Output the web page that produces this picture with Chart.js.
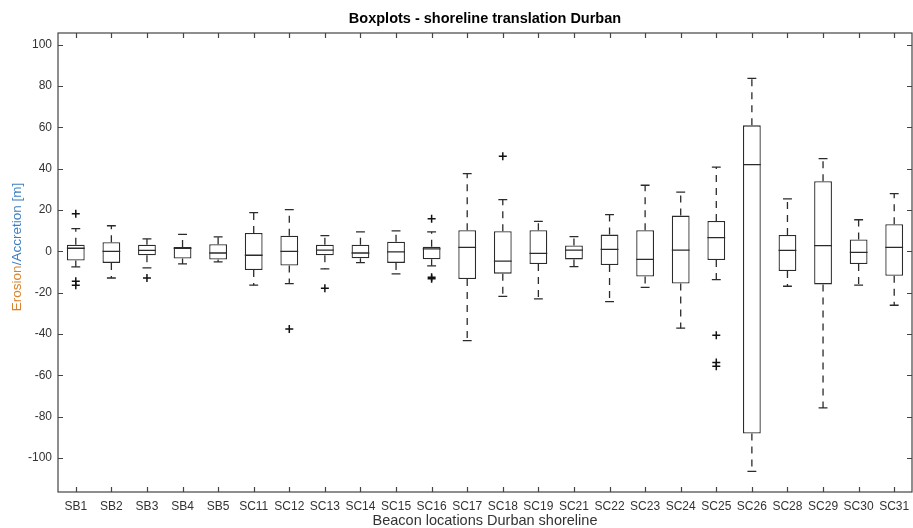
<!DOCTYPE html>
<html>
<head>
<meta charset="utf-8">
<title>Boxplots - shoreline translation Durban</title>
<script src="https://cdn.jsdelivr.net/npm/chart.js@4.4.1/dist/chart.umd.min.js"></script>
<style>
  html, body { margin: 0; padding: 0; background: #fff; }
  #wrap { width: 913px; height: 528px; }
</style>
</head>
<body>
<div id="wrap"><canvas id="boxChart"></canvas></div>
<script>
// Beacon locations along the Durban shoreline
const beacons = ['SB1', 'SB2', 'SB3', 'SB4', 'SB5', 'SC11', 'SC12', 'SC13', 'SC14', 'SC15', 'SC16', 'SC17',
                 'SC18', 'SC19', 'SC21', 'SC22', 'SC23', 'SC24', 'SC25', 'SC26', 'SC28', 'SC29', 'SC30', 'SC31'];

// Box statistics per beacon, shoreline translation in metres
const lowerWhisker = [-7.5, -12.9, -8.0, -6.1, -5.1, -16.4, -15.6, -8.5, -5.5, -10.9, -7.0, -43.2,
                      -21.8, -23.0, -7.4, -24.3, -17.4, -37.2, -13.7, -106.5, -16.9, -75.8, -16.4, -26.1];
const q1 = [-4.4, -5.6, -1.9, -3.5, -4.0, -9.0, -6.9, -1.9, -3.4, -5.6, -3.8, -13.4,
            -10.8, -6.1, -3.9, -6.6, -12.2, -15.6, -4.2, -88.2, -9.5, -16.0, -6.1, -11.8];
const medians = [1.5, 0.0, 0.5, 1.5, -0.8, -1.9, 0.0, 0.6, -0.8, -0.3, 1.2, 1.9,
                 -4.7, -1.0, 0.6, 1.0, -3.9, 0.6, 6.6, 42.0, 0.5, 2.8, -0.5, 1.9];
const q3 = [3.2, 4.4, 3.2, 2.1, 3.4, 8.9, 7.6, 3.2, 3.2, 4.7, 2.2, 10.2,
            9.7, 10.2, 2.8, 8.1, 10.2, 17.3, 14.7, 61.0, 7.9, 33.9, 5.7, 13.1];
const upperWhisker = [11.0, 12.4, 6.0, 8.2, 7.0, 18.7, 20.2, 7.6, 9.4, 9.9, 9.4, 37.6,
                      25.0, 14.5, 7.1, 17.8, 32.0, 28.7, 40.8, 83.7, 25.4, 44.9, 15.3, 27.9];

// Outliers (beacon, value)
const outlierBeacon = ['SB1', 'SB1', 'SB1', 'SB3', 'SC12', 'SC13', 'SC16', 'SC16', 'SC16', 'SC18', 'SC25', 'SC25', 'SC25'];
const outlierValue = [18.2, -14.5, -16.4, -12.9, -37.6, -17.9, 15.8, -12.6, -13.3, 46.0, -40.6, -53.8, -55.6];

const chartTitle = 'Boxplots - shoreline translation Durban';
const lineColor = '#2b2b2b';
const frameColor = '#444444';
const fontFamily = '"Liberation Sans", Arial, Helvetica, sans-serif';

Chart.defaults.font.family = fontFamily;

// Whiskers, caps and medians drawn over the floating bars
const boxParts = {
    id: 'boxParts',
    afterDatasetsDraw(chart) {
        const ctx = chart.ctx;
        const y = chart.scales.y;
        const meta = chart.getDatasetMeta(0);
        ctx.save();
        ctx.strokeStyle = lineColor;
        ctx.lineWidth = 1.3;
        meta.data.forEach((bar, i) => {
            const x = bar.x;
            const half = bar.width / 2;
            const cap = bar.width / 4;
            // dashed whiskers
            ctx.setLineDash([7, 6]);
            ctx.beginPath();
            ctx.moveTo(x, y.getPixelForValue(q3[i]));
            ctx.lineTo(x, y.getPixelForValue(upperWhisker[i]));
            ctx.moveTo(x, y.getPixelForValue(q1[i]));
            ctx.lineTo(x, y.getPixelForValue(lowerWhisker[i]));
            ctx.stroke();
            // caps and median
            ctx.setLineDash([]);
            ctx.beginPath();
            const yu = y.getPixelForValue(upperWhisker[i]);
            const yl = y.getPixelForValue(lowerWhisker[i]);
            const ym = y.getPixelForValue(medians[i]);
            ctx.moveTo(x - cap, yu); ctx.lineTo(x + cap, yu);
            ctx.moveTo(x - cap, yl); ctx.lineTo(x + cap, yl);
            ctx.moveTo(x - half, ym); ctx.lineTo(x + half, ym);
            ctx.stroke();
        });
        ctx.restore();
    }
};

// Axes box with inward ticks on all four sides, the title and the two-colour y label
const axesFrame = {
    id: 'axesFrame',
    afterDraw(chart) {
        const ctx = chart.ctx;
        const a = chart.chartArea;
        const xs = chart.scales.x;
        const ys = chart.scales.y;
        const tl = 5;
        ctx.save();
        ctx.strokeStyle = frameColor;
        ctx.lineWidth = 1.2;
        ctx.strokeRect(a.left, a.top, a.right - a.left, a.bottom - a.top);
        ctx.beginPath();
        xs.ticks.forEach((t, i) => {
            const px = Math.round(xs.getPixelForTick(i)) + 0.5;
            ctx.moveTo(px, a.bottom); ctx.lineTo(px, a.bottom - tl);
            ctx.moveTo(px, a.top); ctx.lineTo(px, a.top + tl);
        });
        ys.ticks.forEach((t, i) => {
            const py = Math.round(ys.getPixelForTick(i)) + 0.5;
            ctx.moveTo(a.left, py); ctx.lineTo(a.left + tl, py);
            ctx.moveTo(a.right, py); ctx.lineTo(a.right - tl, py);
        });
        ctx.stroke();

        // title centred over the plot area
        ctx.font = 'bold 14.5px ' + fontFamily;
        ctx.fillStyle = '#000';
        ctx.textAlign = 'center';
        ctx.textBaseline = 'middle';
        ctx.fillText(chartTitle, (a.left + a.right) / 2, 19);

        // y axis title: "Erosion" and "/Accretion [m]" in separate colours
        const partA = 'Erosion';
        const partB = '/Accretion [m]';
        ctx.font = '13.5px ' + fontFamily;
        const wA = ctx.measureText(partA).width;
        const wB = ctx.measureText(partB).width;
        const cy = 247;
        ctx.translate(17, cy + (wA + wB) / 2);
        ctx.rotate(-Math.PI / 2);
        ctx.textAlign = 'left';
        ctx.fillStyle = '#d9822b';
        ctx.fillText(partA, 0, 0);
        ctx.fillStyle = '#3b7dc4';
        ctx.fillText(partB, wA, 0);
        ctx.restore();
    }
};

const ctxBox = document.getElementById('boxChart').getContext('2d');
const boxChart = new Chart(ctxBox, {
    type: 'bar',
    data: {
        labels: beacons,
        datasets: [{
            type: 'bar',
            label: 'Box',
            data: beacons.map((b, i) => [q1[i], q3[i]]),
            backgroundColor: '#ffffff',
            borderColor: lineColor,
            borderWidth: 1.3,
            borderSkipped: false,
            barPercentage: 0.5,
            categoryPercentage: 1.0
        }, {
            type: 'scatter',
            label: 'Outliers',
            data: outlierBeacon.map((b, i) => ({ x: b, y: outlierValue[i] })),
            pointStyle: 'cross',
            pointRadius: 4,
            borderColor: '#111',
            backgroundColor: '#111',
            borderWidth: 1.5
        }]
    },
    options: {
        responsive: true,
        maintainAspectRatio: false,
        animation: false,
        layout: { autoPadding: false, padding: { left: 0, right: 1, top: 33, bottom: 0 } },
        plugins: {
            legend: { display: false },
            tooltip: { enabled: false },
            title: { display: false }
        },
        scales: {
            x: {
                type: 'category',
                offset: true,
                grid: { display: false, drawTicks: false },
                border: { display: false },
                ticks: { color: '#333', font: { size: 12 }, padding: 7, maxRotation: 0, autoSkip: false },
                title: {
                    display: true,
                    text: 'Beacon locations Durban shoreline',
                    color: '#333',
                    font: { size: 14.5 },
                    padding: { top: 0, bottom: -2 }
                },
                afterFit(scale) {
                    scale.height = 36;
                    scale.paddingLeft = 0;
                    scale.paddingRight = 0;
                }
            },
            y: {
                min: -116.5,
                max: 105.7,
                grid: { display: false, drawTicks: false },
                border: { display: false },
                ticks: { stepSize: 20, includeBounds: false, color: '#333', font: { size: 12 }, padding: 6 },
                afterFit(scale) {
                    scale.width = 58;
                    scale.paddingTop = 0;
                    scale.paddingBottom = 0;
                }
            }
        }
    },
    plugins: [boxParts, axesFrame]
});
</script>
</body>
</html>
